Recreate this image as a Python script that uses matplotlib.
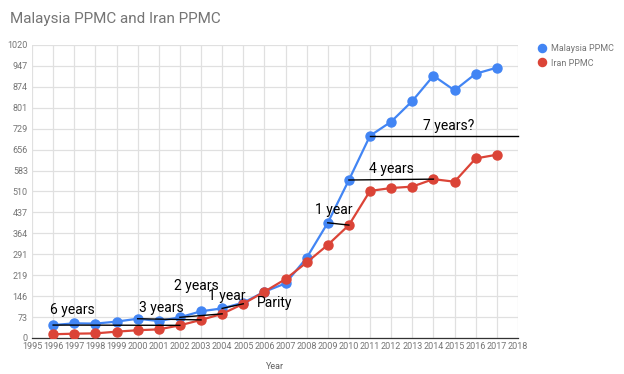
import matplotlib
matplotlib.use("Agg")
import matplotlib.pyplot as plt

years = list(range(1996, 2018))
malaysia = [45, 51, 50, 57, 67, 59, 72, 93, 103, 123, 161, 190, 279, 401, 550, 704, 753, 825, 913, 862, 920, 941]
iran = [13, 15, 16, 22, 27, 30, 44, 63, 84, 119, 161, 205, 263, 324, 393, 512, 522, 527, 553, 544, 625, 638]
yticks = [0, 73, 146, 219, 291, 364, 437, 510, 583, 656, 729, 801, 874, 947, 1020]
xticks = list(range(1995, 2019))

# annotations: (label, text x, text y)
notes = [("6 years", 1996.9, 97), ("3 years", 2001.1, 103), ("2 years", 2002.8, 182),
         ("1 year", 2004.2, 146), ("Parity", 2006.5, 121), ("1 year", 2009.3, 444),
         ("4 years", 2012.0, 588), ("7 years?", 2014.73, 739)]
# gap lines: (x0, y0, x1, y1)
gaps = [(1996, 45, 2002, 44), (2000, 67, 2003, 63), (2002, 72, 2004, 84), (2004, 103, 2005, 119),
        (2009, 401, 2010, 393), (2010, 550, 2014, 553), (2011, 704, 2018, 704)]

plt.rcParams['font.family'] = ['Roboto', 'DejaVu Sans']
fig = plt.figure(figsize=(6.24, 3.74), dpi=100)
ax = fig.add_axes([0.0513, 0.0963, 0.7787, 0.7834])

blue = '#4285F4'
red = '#DB4437'
ax.plot(years, malaysia, color=blue, lw=1.6, marker='o', ms=6.5, label='Malaysia PPMC', zorder=3)
ax.plot(years, iran, color=red, lw=1.6, marker='o', ms=6.5, label='Iran PPMC', zorder=3)

for x0, y0, x1, y1 in gaps:
    ax.plot([x0, x1], [y0, y1], color='black', lw=1.0, zorder=4, clip_on=False)
for t, x, y in notes:
    ax.text(x, y, t, fontsize=10, ha='center', va='center', color='black', zorder=5)

ax.set_xlim(1995, 2018)
ax.set_ylim(0, 1020)
ax.set_xticks(xticks)
ax.set_yticks(yticks)
ax.tick_params(axis='both', length=0, labelsize=6.5, labelcolor='#757575', pad=3)
ax.grid(True, color='#e0e0e0', lw=0.9)
ax.set_axisbelow(True)
for s in ['top', 'right', 'left']:
    ax.spines[s].set_visible(False)
ax.spines['bottom'].set_color('#333333')
ax.spines['bottom'].set_linewidth(0.9)
ax.set_xlabel('Year', fontsize=6.5, color='#616161', labelpad=8)

fig.text(10/624, 1-19/374, 'Malaysia PPMC and Iran PPMC', fontsize=11, color='#757575', va='center', ha='left')

fig.legend(handles=ax.get_lines()[:2], labels=['Malaysia PPMC', 'Iran PPMC'],
           loc='upper left', bbox_to_anchor=(530/624, 1-36/374), frameon=False,
           fontsize=6.5, labelcolor='#757575', handlelength=0.8, handletextpad=0.6,
           markerscale=0.9, labelspacing=0.6)
leg = fig.legends[0]
for h in leg.legend_handles:
    h.set_linestyle('')

fig.savefig('out.png', dpi=100)
